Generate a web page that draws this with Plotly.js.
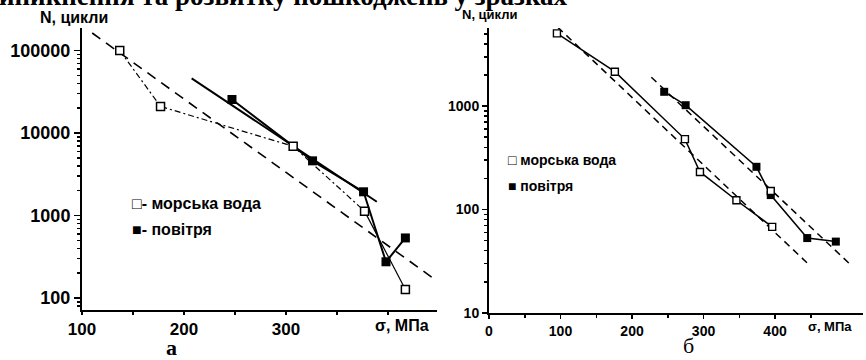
<!DOCTYPE html>
<html><head><meta charset="utf-8">
<script src="https://cdn.plot.ly/plotly-3.0.1.min.js"></script>
<style>html,body{margin:0;padding:0;background:#fff}</style>
</head><body><div id="chart" style="width:866px;height:360px"></div>
<script>
// ---- Panel а ----
const seaA_sigma = [137, 177, 307, 377];
const seaA_N = [100000, 21000, 6900, 1130];
const seaA_tail_sigma = [377, 417];
const seaA_tail_N = [1130, 127];
const airA_sigma = [247, 326, 376, 398, 417];
const airA_N = [25500, 4600, 1940, 275, 535];
const seaA_fit_sigma = [110, 444];
const seaA_fit_N = [163000, 175];
const airA_fit_sigma = [207.5, 389];
const airA_fit_N = [46000, 1470];
const yTicksA = [100, 1000, 10000, 100000];
const yTickTextA = ['100', '1000', '10000', '100000'];
const xTicksA = [100, 200, 300, 400];
const xTickTextA = ['100', '200', '300', ''];
// ---- Panel б ----
const seaB_sigma = [95, 176, 274, 295, 346, 396];
const seaB_N = [5050, 2150, 480, 231, 123, 68];
const seaB_extra_sigma = [394];
const seaB_extra_N = [151];
const airB_sigma = [245, 275, 374, 394, 445, 485];
const airB_N = [1375, 1020, 259, 138, 53, 49];
const seaB_fit_sigma = [96, 446];
const seaB_fit_N = [5800, 30];
const airB_fit_sigma = [227, 505];
const airB_fit_N = [1900, 29.6];
const yTicksB = [10, 100, 1000];
const yTickTextB = ['10', '100', '1000'];
const xTicksB = [0, 100, 200, 300, 400];
const xTickTextB = ['0', '100', '200', '300', '400'];

const W = 866, H = 360;
const px = x => x / W, py = y => 1 - y / H;
const SANS = 'Liberation Sans, Arial, sans-serif';
const SERIF = 'Liberation Serif, Times New Roman, serif';

const fillSq = {symbol: 'square', size: 9, color: '#000'};

const traces = [
  // panel a
  {x: seaA_fit_sigma, y: seaA_fit_N, xaxis: 'x', yaxis: 'y', mode: 'lines', line: {color: '#000', width: 1.6, dash: '10px,7px'}},
  {x: airA_fit_sigma, y: airA_fit_N, xaxis: 'x', yaxis: 'y', mode: 'lines', line: {color: '#000', width: 2}},
  {x: seaA_sigma, y: seaA_N, xaxis: 'x', yaxis: 'y', mode: 'lines', line: {color: '#000', width: 1.2, dash: '6px,3px,2px,3px'}},
  {x: seaA_tail_sigma, y: seaA_tail_N, xaxis: 'x', yaxis: 'y', mode: 'lines', line: {color: '#000', width: 1.2}},
  {x: airA_sigma, y: airA_N, xaxis: 'x', yaxis: 'y', mode: 'lines+markers', line: {color: '#000', width: 2}, marker: fillSq},
  {x: seaA_sigma.concat(seaA_tail_sigma.slice(1)), y: seaA_N.concat(seaA_tail_N.slice(1)), xaxis: 'x', yaxis: 'y', mode: 'markers', marker: {symbol: 'square', size: 8, color: '#fff', line: {width: 1.5, color: '#000'}}},
  // panel b
  {x: seaB_fit_sigma, y: seaB_fit_N, xaxis: 'x2', yaxis: 'y2', mode: 'lines', line: {color: '#000', width: 1.5, dash: '7px,5px'}},
  {x: airB_fit_sigma, y: airB_fit_N, xaxis: 'x2', yaxis: 'y2', mode: 'lines', line: {color: '#000', width: 1.5, dash: '7px,5px'}},
  {x: seaB_sigma, y: seaB_N, xaxis: 'x2', yaxis: 'y2', mode: 'lines+markers', line: {color: '#000', width: 1.5}, marker: {symbol: 'square', size: 7, color: '#fff', line: {width: 1.4, color: '#000'}}},
  {x: airB_sigma, y: airB_N, xaxis: 'x2', yaxis: 'y2', mode: 'lines+markers', line: {color: '#000', width: 1.5}, marker: {symbol: 'square', size: 8, color: '#000'}},
  {x: seaB_extra_sigma, y: seaB_extra_N, xaxis: 'x2', yaxis: 'y2', mode: 'markers', marker: {symbol: 'square', size: 7, color: '#fff', line: {width: 1.4, color: '#000'}}}
];

const axBase = {showgrid: false, zeroline: false, showline: true, linecolor: '#000', linewidth: 2, ticks: 'outside', tickcolor: '#000', tickwidth: 1.5, fixedrange: true};

const layout = {
  width: W, height: H, margin: {l: 0, r: 0, t: 0, b: 0},
  paper_bgcolor: '#fff', plot_bgcolor: '#fff', showlegend: false,
  xaxis: Object.assign({}, axBase, {domain: [px(82), px(437)], range: [100, 448], tickmode: 'array', tickvals: xTicksA, ticktext: xTickTextA, ticklen: 3,
    tickfont: {family: SANS, size: 17, color: '#000', weight: 700}, anchor: 'y',
    minor: {tickmode: 'linear', tick0: 150, dtick: 100, ticks: 'outside', ticklen: 3, tickcolor: '#000', showgrid: false}}),
  yaxis: Object.assign({}, axBase, {type: 'log', domain: [py(310), py(28)], range: [1.855, 5.273], tickmode: 'array', tickvals: yTicksA, ticktext: yTickTextA, ticklen: 6,
    tickfont: {family: SANS, size: 18, color: '#000', weight: 700}, anchor: 'x',
    minor: {dtick: 'D1', ticks: 'outside', ticklen: 3, tickcolor: '#000', showgrid: false}}),
  xaxis2: Object.assign({}, axBase, {domain: [px(489), px(863)], range: [0, 523], tickmode: 'array', tickvals: xTicksB, ticktext: xTickTextB, ticklen: 4,
    tickfont: {family: SANS, size: 14, color: '#000', weight: 700}, anchor: 'y2',
    minor: {tickmode: 'linear', tick0: 50, dtick: 100, ticks: 'outside', ticklen: 3, tickcolor: '#000', showgrid: false}}),
  yaxis2: Object.assign({}, axBase, {type: 'log', domain: [py(313), py(28)], range: [1, 3.755], tickmode: 'array', tickvals: yTicksB, ticktext: yTickTextB, ticklen: 5,
    tickfont: {family: SANS, size: 14, color: '#000', weight: 700}, anchor: 'x2',
    minor: {dtick: 'D1', ticks: 'outside', ticklen: 3, tickcolor: '#000', showgrid: false}}),
  annotations: [
    {text: 'иникнення та розвитку пошкоджень у зразках', xref: 'paper', yref: 'paper', x: px(-3), y: py(-4), xanchor: 'left', yanchor: 'middle', showarrow: false,
      font: {family: SERIF, size: 27, color: '#000', weight: 700}},
    {text: 'N, цикли', xref: 'paper', yref: 'paper', x: px(74), y: py(17), xanchor: 'center', yanchor: 'middle', showarrow: false, font: {family: SANS, size: 16, color: '#000', weight: 700}},
    {text: 'N, цикли', xref: 'paper', yref: 'paper', x: px(490), y: py(15), xanchor: 'center', yanchor: 'middle', showarrow: false, font: {family: SANS, size: 13, color: '#000', weight: 700}},
    {text: 'σ, МПа', xref: 'paper', yref: 'paper', x: px(373), y: py(325), xanchor: 'left', yanchor: 'middle', showarrow: false, font: {family: SANS, size: 16, color: '#000', weight: 700}},
    {text: 'σ, МПа', xref: 'paper', yref: 'paper', x: px(806), y: py(326), xanchor: 'left', yanchor: 'middle', showarrow: false, font: {family: SANS, size: 13, color: '#000', weight: 700}},
    {text: '□- морська вода', xref: 'paper', yref: 'paper', x: px(130), y: py(203), xanchor: 'left', yanchor: 'middle', showarrow: false, font: {family: SANS, size: 16, color: '#000', weight: 700}},
    {text: '■- повітря', xref: 'paper', yref: 'paper', x: px(130), y: py(230), xanchor: 'left', yanchor: 'middle', showarrow: false, font: {family: SANS, size: 16, color: '#000', weight: 700}},
    {text: '□ морська вода', xref: 'paper', yref: 'paper', x: px(506), y: py(160), xanchor: 'left', yanchor: 'middle', showarrow: false, font: {family: SANS, size: 14, color: '#000', weight: 700}},
    {text: '■ повітря', xref: 'paper', yref: 'paper', x: px(506), y: py(186), xanchor: 'left', yanchor: 'middle', showarrow: false, font: {family: SANS, size: 14, color: '#000', weight: 700}},
    {text: 'а', xref: 'paper', yref: 'paper', x: px(171), y: py(347), xanchor: 'center', yanchor: 'middle', showarrow: false, borderpad: 0, font: {family: SERIF, size: 22, color: '#000', weight: 700}},
    {text: 'б', xref: 'paper', yref: 'paper', x: px(688), y: py(345), xanchor: 'center', yanchor: 'middle', showarrow: false, font: {family: SERIF, size: 22, color: '#000'}}
  ]
};

Plotly.newPlot('chart', traces, layout, {staticPlot: true, displayModeBar: false});
</script></body></html>
